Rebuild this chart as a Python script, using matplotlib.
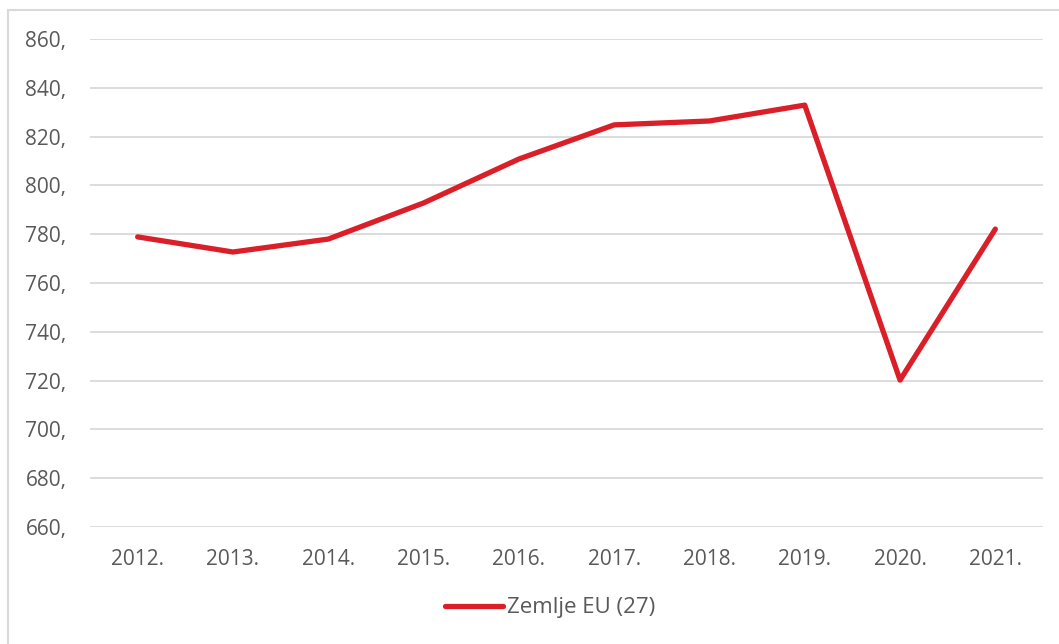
import matplotlib
matplotlib.use("Agg")
import matplotlib.pyplot as plt
from matplotlib.patches import Rectangle
from matplotlib.lines import Line2D

years = ["2012.", "2013.", "2014.", "2015.", "2016.", "2017.", "2018.", "2019.", "2020.", "2021."]
values = [778.9, 772.7, 778.0, 792.8, 810.8, 824.8, 826.4, 832.9, 720.2, 782.1]
yticks = [660, 680, 700, 720, 740, 760, 780, 800, 820, 840, 860]
ytick_labels = [f"{v}," for v in yticks]
series_name = "Zemlje EU (27)"

W, H = 1059, 644
plt.rcParams['font.family'] = ['Open Sans', 'DejaVu Sans']
fig = plt.figure(figsize=(W / 100, H / 100), dpi=100)
fig.patch.set_facecolor("white")

# outer border
fig.patches.append(Rectangle((8 / W, -0.1), 1.2, 1 - 10 / H + 0.1, transform=fig.transFigure,
                             fill=False, edgecolor="#D9D9D9", linewidth=1.5))

ax = fig.add_axes([90 / W, 1 - 527 / H, (1043 - 90) / W, (527 - 39) / H])
x = list(range(len(years)))
ax.plot(x, values, color="#DA1F28", linewidth=3.8, solid_capstyle="round", zorder=3)
ax.set_xlim(-0.5, len(years) - 0.5)
ax.set_ylim(660, 860)
ax.set_yticks(yticks)
ax.set_yticklabels(ytick_labels)
ax.set_xticks(x)
ax.set_xticklabels(years)
ax.grid(axis="y", color="#D9D9D9", linewidth=1.3)
ax.set_axisbelow(True)
for s in ax.spines.values():
    s.set_visible(False)
ax.tick_params(axis="both", length=0, colors="#595959", labelsize=15)
ax.tick_params(axis="y", pad=17)
ax.tick_params(axis="x", pad=16)

handle = Line2D([], [], color="#DA1F28", linewidth=3.8, solid_capstyle="round")
fig.legend([handle], [series_name], loc="center", bbox_to_anchor=(550 / W, 1 - 608 / H),
           frameon=False, fontsize=16, labelcolor="#595959", handlelength=2.6, handletextpad=0.2)

fig.savefig("out.png", dpi=100)
